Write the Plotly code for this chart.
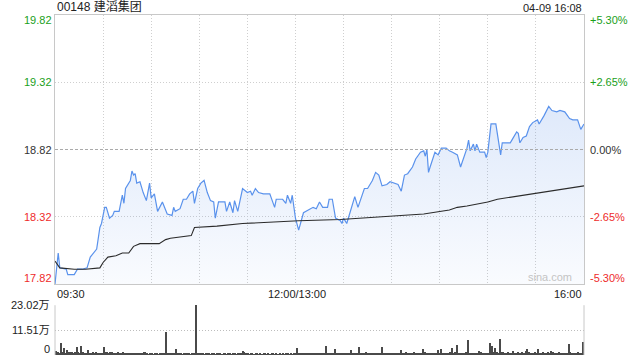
import plotly.graph_objects as go

# ---------------- data ----------------
stock_title = "00148 建滔集团"
stamp = "04-09 16:08"
preclose = 18.82
price_ticks = [19.82, 19.32, 18.82, 18.32, 17.82]
pct_ticks = ["+5.30%", "+2.65%", "0.00%", "-2.65%", "-5.30%"]
x_labels = ["09:30", "12:00/13:00", "16:00"]
x_label_pos = [0, 150, 330]
vol_ticks = [23.02, 11.51, 0]
vol_tick_text = ["23.02万", "11.51万", "0"]

minutes = [0, 2, 3, 7, 8, 12, 14, 17, 20, 22, 26, 28, 29, 31, 32, 34, 36, 37, 40, 42,
           43, 44, 47, 48, 49, 50, 51, 53, 55, 57, 59, 60, 62, 64, 67, 70, 73, 74, 75, 78,
           80, 82, 84, 86, 87, 89, 91, 93, 95, 97, 99, 100, 102, 106, 107, 109, 111, 112, 114, 117,
           120, 122, 123, 125, 127, 130, 134, 137, 138, 142, 144, 145, 147, 148, 150, 152, 155, 159, 161, 163,
           165, 167, 170, 171, 173, 175, 178, 179, 180, 182, 185, 187, 189, 190, 193, 195, 198, 200, 202, 204,
           207, 209, 214, 216, 218, 220, 223, 225, 228, 230, 231, 232, 233, 234, 237, 239, 241, 244, 246, 248,
           251, 253, 255, 257, 258, 259, 261, 262, 263, 265, 268, 269, 270, 272, 275, 276, 278, 279, 282, 284,
           285, 288, 289, 290, 292, 294, 296, 298, 301, 302, 305, 307, 308, 310, 313, 315, 318, 321, 323, 326,
           328, 330]
prices = [17.82, 18.05, 17.94, 17.93, 17.89, 17.89, 17.93, 17.93, 17.94, 18.02, 18.08, 18.24, 18.27, 18.39, 18.39, 18.31, 18.33, 18.36, 18.36, 18.48,
          18.42, 18.53, 18.59, 18.66, 18.63, 18.64, 18.57, 18.58, 18.50, 18.44, 18.57, 18.46, 18.49, 18.36, 18.43, 18.34, 18.33, 18.39, 18.36, 18.38,
          18.45, 18.45, 18.49, 18.51, 18.42, 18.53, 18.57, 18.59, 18.50, 18.44, 18.43, 18.31, 18.43, 18.43, 18.36, 18.43, 18.35, 18.44, 18.36, 18.53,
          18.50, 18.51, 18.48, 18.53, 18.50, 18.49, 18.49, 18.39, 18.45, 18.45, 18.42, 18.48, 18.42, 18.48, 18.31, 18.22, 18.35, 18.38, 18.39, 18.38,
          18.43, 18.39, 18.39, 18.45, 18.45, 18.31, 18.29, 18.27, 18.31, 18.27, 18.39, 18.47, 18.39, 18.43, 18.53, 18.53, 18.59, 18.65, 18.63, 18.55,
          18.56, 18.58, 18.56, 18.51, 18.63, 18.64, 18.69, 18.75, 18.80, 18.81, 18.77, 18.82, 18.65, 18.69, 18.80, 18.78, 18.83, 18.83, 18.81, 18.80,
          18.78, 18.69, 18.76, 18.83, 18.89, 18.81, 18.86, 18.81, 18.86, 18.80, 18.80, 18.76, 18.80, 19.01, 19.01, 18.92, 18.78, 18.87, 18.87, 18.87,
          18.89, 18.95, 18.94, 18.87, 18.91, 18.92, 18.99, 19.02, 19.04, 19.01, 19.07, 19.11, 19.14, 19.11, 19.10, 19.11, 19.10, 19.05, 19.04, 19.04,
          18.97, 19.01]

avg_minutes = [0, 3, 12, 19, 28, 30, 33, 38, 42, 46, 49, 53, 65, 69, 72, 85, 87, 101, 117, 134,
               152, 178, 203, 230, 246, 251, 257, 270, 276, 292, 305, 319, 330]
avg_prices = [17.99, 17.94, 17.93, 17.93, 17.94, 17.98, 18.02, 18.03, 18.05, 18.05, 18.10, 18.12, 18.12, 18.15, 18.16, 18.18, 18.24, 18.25, 18.27, 18.28,
              18.29, 18.30, 18.32, 18.34, 18.37, 18.39, 18.40, 18.43, 18.45, 18.48, 18.50, 18.53, 18.55]

# volume per minute, in 万 shares (minute 0 .. 330)
volume = [
    1.8, 1.2, 0.9, 5.7, 1.5, 3.0, 1.0, 2.3, 1.4, 1.2,
    1.5, 0.9, 1.3, 3.5, 1.4, 0.8, 4.1, 1.5, 1.0, 0.9,
    2.3, 1.1, 0.8, 1.2, 0.7, 1.4, 0.9, 0.6, 0.8, 1.1,
    3.5, 1.3, 1.6, 0.9, 1.5, 1.2, 0.7, 0.6, 0.9, 1.3,
    0.8, 0.6, 1.4, 0.9, 0.5, 0.7, 0.6, 1.1, 0.8, 0.5,
    0.6, 1.0, 0.5, 0.7, 0.8, 1.4, 1.2, 0.5, 0.4, 0.6,
    0.5, 0.4, 0.6, 0.5, 0.4, 0.7, 0.5, 0.6, 1.1, 10.7,
    0.6, 0.5, 0.8, 0.6, 0.9, 2.8, 0.7, 0.5, 0.6, 0.4,
    0.5, 0.8, 0.6, 0.5, 0.4, 0.6, 1.1, 0.9, 23.02, 0.8,
    0.6, 0.5, 0.7, 0.4, 0.6, 0.5, 0.8, 0.4, 0.5, 0.6,
    0.4, 0.9, 0.5, 0.6, 0.4, 0.5, 0.7, 0.4, 0.6, 0.5,
    0.4, 0.5, 0.6, 0.4, 0.5, 0.7, 0.5, 1.8, 1.2, 0.6,
    0.5, 0.4, 0.6, 0.5, 0.4, 0.5, 0.6, 0.4, 0.5, 0.4,
    0.5, 0.6, 0.4, 0.5, 0.4, 0.6, 0.5, 0.4, 0.5, 0.4,
    0.6, 0.4, 0.5, 0.4, 0.5, 0.6, 0.4, 0.5, 0.4, 0.7,
    0.6, 3.3, 0.8, 0.6, 0.7, 0.5, 0.6, 0.8, 0.5, 0.6,
    0.5, 0.7, 0.6, 0.5, 0.8, 0.6, 0.7, 0.5, 0.6, 4.1,
    0.8, 0.6, 0.5, 0.9, 0.7, 2.6, 0.6, 0.5, 0.7, 0.6,
    0.5, 0.7, 0.6, 0.8, 0.9, 2.3, 0.6, 0.5, 0.7, 1.0,
    3.5, 0.7, 0.6, 0.8, 1.4, 0.9, 0.6, 0.5, 0.7, 1.0,
    0.8, 0.6, 0.9, 0.7, 3.5, 0.8, 0.6, 0.5, 0.7, 0.6,
    0.8, 0.7, 0.5, 0.6, 0.9, 0.7, 2.3, 0.8, 0.6, 1.2,
    0.7, 0.6, 0.8, 0.9, 1.2, 0.7, 0.6, 0.8, 0.7, 0.9,
    2.6, 1.3, 0.8, 0.7, 0.6, 1.0, 0.8, 0.7, 0.9, 2.3,
    1.1, 2.6, 0.8, 0.7, 1.0, 0.9, 0.8, 1.4, 3.0, 1.0,
    1.2, 4.6, 0.9, 0.8, 1.0, 0.7, 0.8, 1.2, 6.9, 1.0,
    1.0, 0.8, 0.9, 1.1, 0.8, 1.8, 1.2, 1.0, 0.9, 0.8,
    1.1, 1.0, 5.4, 4.1, 1.3, 3.0, 1.2, 1.0, 7.4, 1.5,
    1.2, 0.9, 1.0, 1.3, 0.8, 1.1, 1.8, 0.9, 1.0, 1.2,
    0.8, 1.1, 1.4, 1.0, 1.8, 2.6, 1.3, 1.1, 1.0, 0.9,
    1.2, 0.8, 2.8, 1.1, 0.9, 1.3, 1.0, 0.8, 1.4, 0.9,
    1.8, 1.2, 1.0, 0.9, 1.0, 1.3, 1.1, 0.9, 1.1, 0.8,
    1.0, 5.1, 1.2, 1.0, 0.8, 1.1, 0.9, 1.2, 0.8, 1.0,
    6.1,
]

# ---------------- style ----------------
FONT = "Liberation Sans, Arial, Noto Sans CJK SC, sans-serif"
GREEN = "#1aa01a"
RED = "#ee2b2b"
BLACK = "#333333"
BORDER = "#c8c8c8"
GRID = "#cfcfcf"
DOT = "1px,2px"

def tick_color(v):
    if v > preclose + 1e-9:
        return GREEN
    if v < preclose - 1e-9:
        return RED
    return BLACK

fig = go.Figure()

# baseline for area fill
fig.add_trace(go.Scatter(x=[0, 330], y=[price_ticks[-1], price_ticks[-1]], mode="lines",
                         line=dict(width=0, color="rgba(0,0,0,0)"), hoverinfo="skip",
                         showlegend=False, xaxis="x", yaxis="y"))
fig.add_trace(go.Scatter(x=minutes, y=prices, mode="lines",
                         line=dict(color="#5a92ec", width=1.2),
                         fill="tonexty",
                         fillgradient=dict(type="vertical", start=17.82, stop=19.2,
                                           colorscale=[[0, "rgba(70,130,230,0.03)"],
                                                       [1, "rgba(70,130,230,0.18)"]]),
                         showlegend=False, xaxis="x", yaxis="y"))
fig.add_trace(go.Scatter(x=avg_minutes, y=avg_prices, mode="lines",
                         line=dict(color="#2b2b2b", width=1.1),
                         showlegend=False, xaxis="x", yaxis="y"))
fig.add_trace(go.Bar(x=list(range(len(volume))), y=volume, width=0.65,
                     marker=dict(color="#4a4a4a", line=dict(width=0)),
                     showlegend=False, xaxis="x2", yaxis="y2"))

annotations = []
annotations.append(dict(text=stock_title, xref="paper", yref="paper", x=0, y=1,
                        xanchor="left", yanchor="bottom", showarrow=False,
                        font=dict(size=12, color="#222", family=FONT), yshift=-1))
annotations.append(dict(text=stamp, xref="paper", yref="paper", x=1, y=1,
                        xanchor="right", yanchor="bottom", showarrow=False,
                        font=dict(size=11, color="#222", family=FONT), yshift=-1))
for i, (v, p) in enumerate(zip(price_ticks, pct_ticks)):
    shift = -5 if i == 0 else (6 if i == len(price_ticks) - 1 else 0)
    c = tick_color(v)
    annotations.append(dict(text=f"{v:.2f}", xref="paper", yref="y", x=0, y=v,
                            xanchor="right", yanchor="middle", showarrow=False, xshift=-1,
                            yshift=shift, font=dict(size=11, color=c, family=FONT)))
    annotations.append(dict(text=p, xref="paper", yref="y", x=1, y=v,
                            xanchor="left", yanchor="middle", showarrow=False, xshift=4,
                            yshift=shift, font=dict(size=11, color=c, family=FONT)))
anchors = ["left", "center", "right"]
for lab, pos, anc in zip(x_labels, x_label_pos, anchors):
    annotations.append(dict(text=lab, xref="x", yref="paper", x=pos, y=0.2088,
                            xanchor=anc, yanchor="top", showarrow=False, yshift=-2,
                            xshift=(2 if anc == "center" else 0),
                            font=dict(size=11, color="#222", family=FONT)))
for v, t in zip(vol_ticks, vol_tick_text):
    annotations.append(dict(text=t, xref="paper", yref="y2", x=0, y=v,
                            xanchor="right", yanchor="middle", showarrow=False, xshift=-3,
                            yshift=(6 if v == 0 else 0),
                            font=dict(size=11, color="#222", family=FONT)))
annotations.append(dict(text="sina.com", xref="paper", yref="y", x=1, y=17.82,
                        xanchor="right", yanchor="bottom", showarrow=False, xshift=-10, yshift=-1,
                        font=dict(size=11, color="#c4c4c4", family=FONT)))

shapes = [
    dict(type="line", xref="x", yref="y", x0=0, x1=330, y0=preclose, y1=preclose,
         line=dict(color="#aaaaaa", width=1, dash="3px,2px"), layer="above"),
    dict(type="line", xref="paper", yref="y2", x0=0, x1=0, y0=0, y1=23.02,
         line=dict(color=BORDER, width=1)),
    dict(type="line", xref="paper", yref="y2", x0=1, x1=1, y0=0, y1=23.02,
         line=dict(color=BORDER, width=1)),
]

fig.update_layout(
    width=640, height=360,
    margin=dict(l=55, r=56, t=15, b=5),
    paper_bgcolor="white", plot_bgcolor="white",
    showlegend=False, bargap=0,
    font=dict(family=FONT, size=11),
    xaxis=dict(domain=[0, 1], range=[0, 330], anchor="y",
               tickvals=list(range(30, 330, 30)), showticklabels=False, ticks="",
               showgrid=True, gridcolor=GRID, griddash=DOT, gridwidth=1,
               showline=True, mirror=True, linecolor=BORDER, linewidth=1, zeroline=False),
    yaxis=dict(domain=[0.2088, 1], range=[17.82, 19.82], anchor="x",
               tickvals=[18.32, 19.32], showticklabels=False, ticks="",
               showgrid=True, gridcolor=GRID, griddash=DOT, gridwidth=1,
               showline=True, mirror=True, linecolor=BORDER, linewidth=1, zeroline=False),
    xaxis2=dict(domain=[0, 1], range=[-0.6, 330.6], anchor="y2",
                showticklabels=False, ticks="", showgrid=False, showline=False, zeroline=False),
    yaxis2=dict(domain=[0, 0.147], range=[0, 23.1], anchor="x2",
                tickvals=[11.51, 23.02], showticklabels=False, ticks="",
                showgrid=True, gridcolor="#bdbdbd", griddash=DOT, gridwidth=1,
                showline=False, zeroline=False),
    annotations=annotations,
    shapes=shapes,
)

fig.write_html("out.html", config={"displayModeBar": False},
               post_script="document.body.style.margin='0';")
